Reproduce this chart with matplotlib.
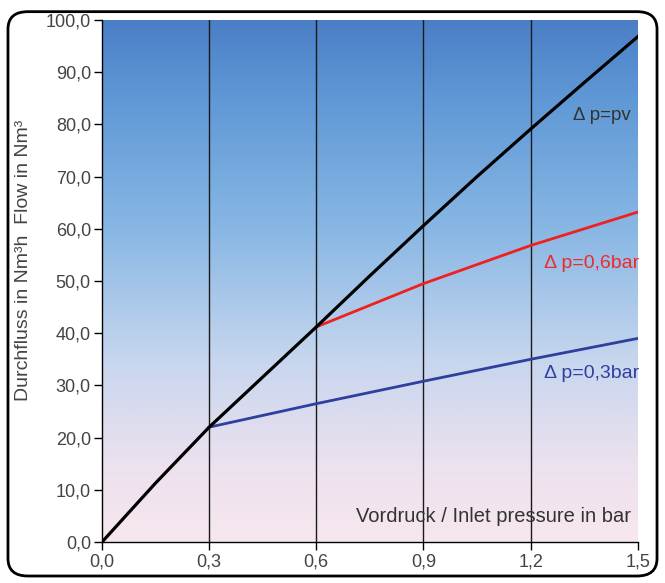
import numpy as np
import matplotlib
matplotlib.use("Agg")
import matplotlib.pyplot as plt
from matplotlib.patches import FancyBboxPatch
from matplotlib.colors import LinearSegmentedColormap

plt.rcParams['font.family'] = ['Liberation Sans', 'DejaVu Sans']

# Data
x_pv = [0.0, 0.15, 0.3, 0.45, 0.6, 0.75, 0.9, 1.05, 1.2, 1.35, 1.5]
y_pv = [0.0, 11.3, 22.0, 31.6, 41.2, 51.0, 60.6, 70.0, 79.1, 88.0, 96.8]
x_06 = [0.6, 0.9, 1.2, 1.5]
y_06 = [41.2, 49.5, 56.8, 63.2]
x_03 = [0.3, 0.6, 0.9, 1.2, 1.5]
y_03 = [22.0, 26.5, 30.8, 35.0, 39.0]
xticks = [0.0, 0.3, 0.6, 0.9, 1.2, 1.5]
xtick_labels = ["0,0", "0,3", "0,6", "0,9", "1,2", "1,5"]
yticks = [0, 10, 20, 30, 40, 50, 60, 70, 80, 90, 100]
ytick_labels = ["0,0", "10,0", "20,0", "30,0", "40,0", "50,0", "60,0", "70,0", "80,0", "90,0", "100,0"]

fig = plt.figure(figsize=(6.65, 5.83), dpi=100)
fig.patch.set_facecolor("white")

# rounded border
border = FancyBboxPatch((0.012, 0.012), 0.976, 0.968, boxstyle="round,pad=0,rounding_size=0.03",
                        transform=fig.transFigure, fill=False, edgecolor="black", linewidth=2.0)
fig.patches.append(border)

ax = fig.add_axes([0.1534, 0.0703, 0.8056, 0.8954])
ax.set_xlim(0, 1.5)
ax.set_ylim(0, 100)

cmap = LinearSegmentedColormap.from_list(
    "bg", [(0.0, "#f7e7ef"), (0.15, "#ece1ee"), (0.35, "#c6d6ee"),
           (0.6, "#88b7e4"), (0.85, "#5f98d6"), (1.0, "#4a7ec6")])
grad = np.linspace(0, 1, 256).reshape(-1, 1)
ax.imshow(grad, extent=[0, 1.5, 0, 100], aspect="auto", origin="lower", cmap=cmap, zorder=0)

for xv in [0.3, 0.6, 0.9, 1.2]:
    ax.axvline(xv, color="#1a1a1a", linewidth=1.0, zorder=1)

ax.plot(x_pv, y_pv, color="black", linewidth=2.3, zorder=3)
ax.plot(x_06, y_06, color="#f02020", linewidth=2.0, zorder=2)
ax.plot(x_03, y_03, color="#2e3f9e", linewidth=2.0, zorder=2)

ax.text(1.48, 81.8, "Δ p=pv", color="#333333", fontsize=13.5, ha="right", va="center")
ax.text(1.503, 53.3, "Δ p=0,6bar", color="#ee2a2a", fontsize=14, ha="right", va="center")
ax.text(1.503, 32.2, "Δ p=0,3bar", color="#3040a0", fontsize=14, ha="right", va="center")
ax.text(1.48, 4.8, "Vordruck / Inlet pressure in bar", color="#333333", fontsize=14.5, ha="right", va="center")

ax.set_xticks(xticks)
ax.set_xticklabels(xtick_labels)
ax.set_yticks(yticks)
ax.set_yticklabels(ytick_labels)
ax.tick_params(axis="both", direction="out", length=6, width=1, colors="black", labelcolor="#444444",
               labelsize=13, pad=2)
for s in ["top", "right"]:
    ax.spines[s].set_visible(False)
for s in ["left", "bottom"]:
    ax.spines[s].set_color("black")
    ax.spines[s].set_linewidth(1.0)

fig.text(0.035, 0.554, "Durchfluss in Nm³h  Flow in Nm³", rotation=90, ha="center", va="center",
         fontsize=14, color="#444444")

fig.savefig("out.png", dpi=100)
